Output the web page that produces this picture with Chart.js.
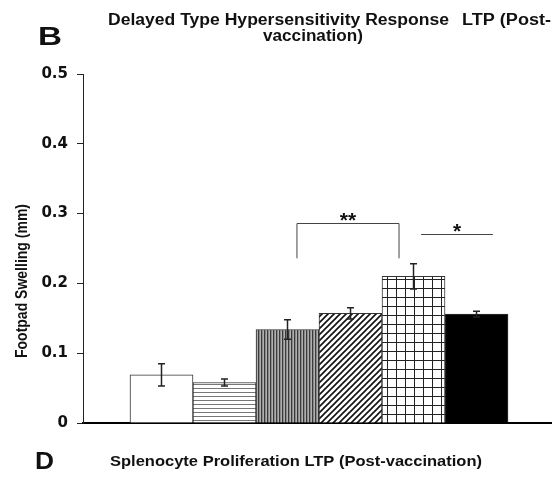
<!DOCTYPE html>
<html>
<head>
<meta charset="utf-8">
<script src="https://cdn.jsdelivr.net/npm/chart.js@4.4.1/dist/chart.umd.min.js"></script>
<style>
  html, body { margin: 0; padding: 0; background: #fff; }
  canvas { display: block; }
</style>
</head>
<body>
<canvas id="chart" width="552" height="480"></canvas>
<script>
// groups in plot order
const groups = ["G1", "G2", "G3", "G4", "G5", "G6"];
const swelling = [0.069, 0.058, 0.134, 0.157, 0.210, 0.156];
const swellingErr = [0.016, 0.005, 0.014, 0.008, 0.018, 0.004];
const yTicks = ["0", "0.1", "0.2", "0.3", "0.4", "0.5"];
const fills = ["white", "hlines", "vlines", "diag", "grid", "black"];

// significance marks (x in bar units, y in mm)
const sigMarks = [
  { from: 3.15, to: 4.77, y: 0.287, foot: 0.236, label: "**" },
  { from: 5.12, to: 6.26, y: 0.271, foot: null, label: "*" },
];

function makePattern(kind) {
  if (kind === "white") return "#ffffff";
  if (kind === "black") return "#000000";
  const c = document.createElement("canvas");
  const g = c.getContext("2d");
  if (kind === "hlines") {
    c.width = 4; c.height = 4;
    g.fillStyle = "#fff"; g.fillRect(0, 0, 4, 4);
    g.fillStyle = "#777"; g.fillRect(0, 0, 4, 1);
  } else if (kind === "vlines") {
    c.width = 3; c.height = 3;
    g.fillStyle = "#8a8a8a"; g.fillRect(0, 0, 3, 3);
    g.fillStyle = "#3a3a3a"; g.fillRect(0, 0, 1, 3);
    g.fillStyle = "#b0b0b0"; g.fillRect(2, 0, 1, 3);
  } else if (kind === "diag") {
    c.width = 6; c.height = 6;
    g.fillStyle = "#fff"; g.fillRect(0, 0, 6, 6);
    g.strokeStyle = "#111"; g.lineWidth = 1.6;
    g.beginPath();
    g.moveTo(-1, 7); g.lineTo(7, -1);
    g.moveTo(-4, 4); g.lineTo(4, -4);
    g.moveTo(2, 10); g.lineTo(10, 2);
    g.stroke();
  } else if (kind === "grid") {
    c.width = 9; c.height = 9;
    g.fillStyle = "#fff"; g.fillRect(0, 0, 9, 9);
    g.fillStyle = "#222"; g.fillRect(0, 0, 9, 1); g.fillRect(0, 0, 1, 9);
  }
  return g.createPattern(c, "repeat");
}

function stretchText(ctx, str, x, y, font, width, align) {
  ctx.save();
  ctx.font = font;
  const w = ctx.measureText(str).width;
  ctx.translate(align === "center" ? x - width / 2 : x, y);
  ctx.scale(width / w, 1);
  ctx.textAlign = "left";
  ctx.fillText(str, 0, 0);
  ctx.restore();
}

const decor = {
  id: "decor",
  afterDatasetsDraw(chart) {
    const ctx = chart.ctx;
    const xs = chart.scales.x, ys = chart.scales.y;

    // error bars
    ctx.save();
    ctx.strokeStyle = "#222";
    ctx.lineWidth = 1.5;
    swelling.forEach((v, i) => {
      const px = xs.getPixelForValue(i + 1);
      const top = ys.getPixelForValue(v + swellingErr[i]);
      const bot = ys.getPixelForValue(v - swellingErr[i]);
      ctx.beginPath();
      ctx.moveTo(px, top); ctx.lineTo(px, bot);
      ctx.moveTo(px - 3.5, top); ctx.lineTo(px + 3.5, top);
      ctx.moveTo(px - 3.5, bot); ctx.lineTo(px + 3.5, bot);
      ctx.stroke();
    });
    ctx.restore();

    // significance brackets
    ctx.save();
    ctx.strokeStyle = "#444";
    ctx.lineWidth = 1;
    ctx.fillStyle = "#111";
    ctx.font = "bold 21px 'Liberation Sans'";
    ctx.textAlign = "center";
    ctx.textBaseline = "alphabetic";
    sigMarks.forEach(m => {
      const x1 = xs.getPixelForValue(m.from), x2 = xs.getPixelForValue(m.to);
      const y = Math.round(ys.getPixelForValue(m.y)) + 0.5;
      ctx.beginPath();
      if (m.foot !== null) {
        const yf = ys.getPixelForValue(m.foot);
        ctx.moveTo(x1, yf); ctx.lineTo(x1, y); ctx.lineTo(x2, y); ctx.lineTo(x2, yf);
      } else {
        ctx.moveTo(x1, y); ctx.lineTo(x2, y);
      }
      ctx.stroke();
      ctx.fillText(m.label, (x1 + x2) / 2, y + 3);
    });
    ctx.restore();
  },
  afterDraw(chart) {
    const ctx = chart.ctx;
    ctx.save();
    ctx.fillStyle = "#111";
    ctx.textBaseline = "alphabetic";
    const f16 = "bold 16px 'Liberation Sans'";
    const f15 = "bold 15px 'Liberation Sans'";
    stretchText(ctx, "B", 38, 45, "bold 25px 'Liberation Sans'", 24, "left");
    stretchText(ctx, "Delayed Type Hypersensitivity Response", 108, 25, f16, 341, "left");
    stretchText(ctx, "LTP (Post-", 462, 25, f16, 89, "left");
    stretchText(ctx, "vaccination)", 313, 41, f16, 100, "center");
    stretchText(ctx, "D", 35, 469, "bold 24px 'Liberation Sans'", 19, "left");
    stretchText(ctx, "Splenocyte Proliferation LTP (Post-vaccination)", 110, 466, f15, 372, "left");

    // y axis title
    ctx.translate(27, 281);
    ctx.rotate(-Math.PI / 2);
    ctx.scale(1, 1.15);
    ctx.font = "bold 14px 'Liberation Sans'";
    ctx.textAlign = "center";
    ctx.fillText("Footpad Swelling (mm)", 0, 0);
    ctx.restore();
  }
};

const ctx = document.getElementById("chart").getContext("2d");
new Chart(ctx, {
  type: "bar",
  data: {
    datasets: [{
      data: swelling.map((v, i) => ({ x: i + 1, y: v })),
      backgroundColor: fills.map(makePattern),
      borderColor: "#333",
      borderWidth: 1,
      barPercentage: 1,
      categoryPercentage: 1,
    }],
  },
  options: {
    responsive: false,
    animation: false,
    devicePixelRatio: 1,
    layout: { padding: { top: 74, bottom: 57, left: 0, right: 0 } },
    plugins: { legend: { display: false }, tooltip: { enabled: false }, title: { display: false } },
    scales: {
      x: {
        type: "linear",
        offset: false,
        min: -0.246,
        max: 7.198,
        grid: { display: false },
        ticks: { display: false },
        border: { display: true, color: "#000", width: 2 },
        afterFit: s => { s.height = 0; },
      },
      y: {
        min: 0,
        max: 0.5,
        ticks: {
          stepSize: 0.1,
          padding: 9,
          color: "#111",
          font: { family: "DejaVu Sans", weight: "bold", size: 15 },
          callback: (v) => yTicks[Math.round(v * 10)],
        },
        grid: { display: true, drawOnChartArea: false, tickLength: 6, color: "#222" },
        border: { display: true, color: "#222", width: 1 },
        afterFit: s => { s.width = 83; },
      },
    },
  },
  plugins: [decor],
});
</script>
</body>
</html>
